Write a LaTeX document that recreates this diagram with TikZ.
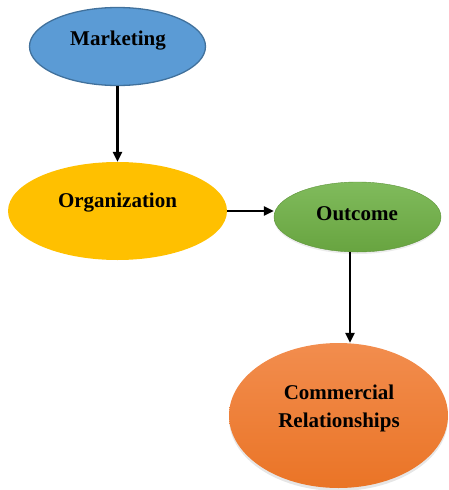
\documentclass[tikz,border=0pt]{standalone}
\usepackage{fontspec}
\setmainfont{Liberation Serif}
\usetikzlibrary{arrows.meta,shapes.geometric,shadows,positioning}
\definecolor{mktfill}{HTML}{5B9BD5}
\definecolor{mktline}{HTML}{41719C}
\definecolor{orgfill}{HTML}{FFC000}
\definecolor{outtop}{HTML}{80BB5C}
\definecolor{outbot}{HTML}{68A440}
\definecolor{comtop}{HTML}{F28D4E}
\definecolor{combot}{HTML}{EA7426}
\tikzset{
  blob/.style={ellipse, inner sep=0pt},
  lbl/.style={font=\bfseries\fontsize{21}{28}\selectfont, align=center, inner sep=0pt},
  link/.style={line width=2.4pt, -{Triangle[length=10pt,width=9pt]}}
}
\begin{document}
\begin{tikzpicture}[x=1pt,y=-1pt]
  \useasboundingbox (0,0) rectangle (448,490);
  % ellipses
  \node[blob, fill=mktfill, draw=mktline, line width=1.3pt,
        minimum width=176pt, minimum height=78pt] (mkt) at (117.5,46.5) {};
  \node[blob, fill=orgfill, minimum width=219pt, minimum height=98pt] (org) at (117.5,211) {};
  \node[blob, top color=outtop, bottom color=outbot, draw=outbot!90!black, line width=0.4pt,
        drop shadow={opacity=0.15, shadow xshift=0pt, shadow yshift=-2pt},
        minimum width=167pt, minimum height=70pt] (out) at (357.5,217) {};
  \node[blob, top color=comtop, bottom color=combot,
        drop shadow={opacity=0.2, shadow xshift=0pt, shadow yshift=-3pt},
        minimum width=219pt, minimum height=145pt] (com) at (338.5,415.5) {};
  % labels
  \node[lbl] (mktt) at (118,41) {Marketing};
  \node[lbl] (orgt) at (117.5,203) {Organization};
  \node[lbl] (outt) at (357,214) {Outcome};
  \node[lbl] (comt) at (339,408) {Commercial\\Relationships};
  % connectors
  \draw[link] (mkt.south) -- (org.north);
  \draw[link] (org.east) -- (org.east -| out.west);
  \draw[link] ([xshift=-7.5pt]out.south) -- ([xshift=-7.5pt]out.south |- com.north);
\end{tikzpicture}
\end{document}
